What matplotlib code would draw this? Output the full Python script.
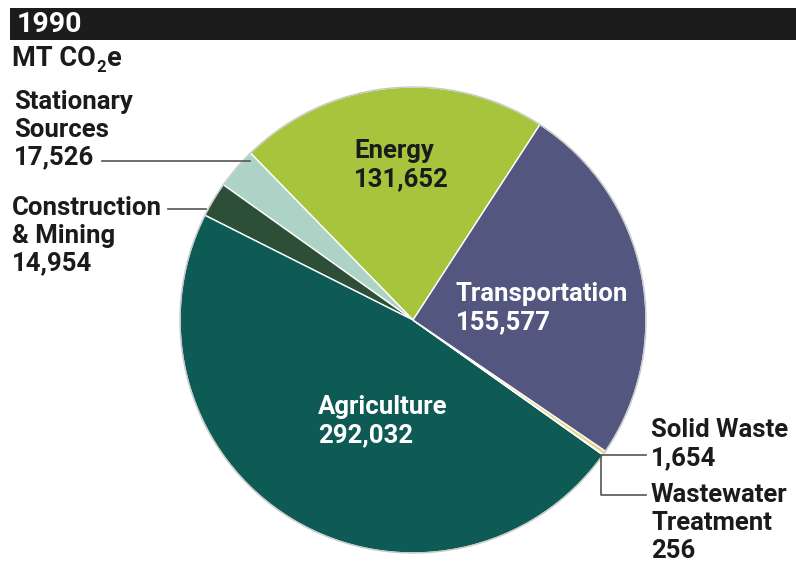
import matplotlib
matplotlib.use("Agg")
import matplotlib.pyplot as plt
from matplotlib.patches import Rectangle, Circle

# emissions by sector, 1990 (MT CO2e), in pie order (counterclockwise)
sectors = ["Energy", "Stationary Sources", "Construction & Mining", "Agriculture",
           "Wastewater Treatment", "Solid Waste", "Transportation"]
values = [131652, 17526, 14954, 292032, 256, 1654, 155577]
colors = ["#a6c43c", "#acd3c6", "#2d4f37", "#0e5b56", "#9cc3d3", "#e3d57e", "#53577f"]
label_text = ["Energy\n131,652", "Stationary\nSources\n17,526", "Construction\n& Mining\n14,954",
              "Agriculture\n292,032", "Wastewater\nTreatment\n256", "Solid Waste\n1,654",
              "Transportation\n155,577"]

W, H = 796, 562
FONT = "Roboto"
FS = 18.5
INK = "#1b1b1b"


def py(y):
    # pixel row (from top) -> data y
    return H - y


fig = plt.figure(figsize=(W / 100, H / 100), dpi=100)
ax = fig.add_axes([0, 0, 1, 1])

cx, cy, r = 413, py(320), 233
ax.pie(values, colors=colors, startangle=57, counterclock=True, center=(cx, cy), radius=r,
       wedgeprops=dict(edgecolor="white", linewidth=1.0), frame=True)
ax.add_patch(Circle((cx, cy), r, fill=False, edgecolor="#c8c8c8", linewidth=1.0))
ax.set_xlim(0, W)
ax.set_ylim(0, H)
ax.set_aspect("equal")
ax.axis("off")

# header bar
ax.add_patch(Rectangle((10, py(40)), W - 10, 32, facecolor="#1c1c1c", edgecolor="none"))
ax.text(17, py(25), "1990", color="white", fontsize=20.5, fontweight="bold",
        family=FONT, va="center", ha="left")

# unit line with subscript
t1 = ax.text(12, py(59), "MT CO", color=INK, fontsize=19.5, fontweight="bold",
             family=FONT, va="center", ha="left")
fig.canvas.draw()
bb = t1.get_window_extent()
t2 = ax.text(bb.x1 + 1, py(67), "2", color=INK, fontsize=12, fontweight="bold",
             family=FONT, va="center", ha="left")
fig.canvas.draw()
bb2 = t2.get_window_extent()
ax.text(bb2.x1 + 1, py(59), "e", color=INK, fontsize=19.5, fontweight="bold",
        family=FONT, va="center", ha="left")

# labels: (x, first-line center y, color)
lab_pos = {
    "Energy": (354, 152, INK),
    "Stationary Sources": (14, 103, INK),
    "Construction & Mining": (12, 209, INK),
    "Agriculture": (318, 408, "white"),
    "Wastewater Treatment": (651, 496, INK),
    "Solid Waste": (651, 431, INK),
    "Transportation": (456, 295, "white"),
}
for name, txt in zip(sectors, label_text):
    x, y, c = lab_pos[name]
    ax.text(x, py(y - 13), txt, color=c, fontsize=FS, fontweight="bold", family=FONT,
            va="top", ha="left", linespacing=1.2)

# leader lines
lc = "#555555"
ax.plot([102, 250], [py(161), py(161)], color=lc, lw=1.2)
ax.plot([168, 206], [py(209), py(209)], color=lc, lw=1.2)
ax.plot([601, 646], [py(455), py(455)], color=lc, lw=1.2)
ax.plot([601, 601, 646], [py(455), py(495), py(495)], color=lc, lw=1.2)

fig.savefig("out.png", dpi=100)
